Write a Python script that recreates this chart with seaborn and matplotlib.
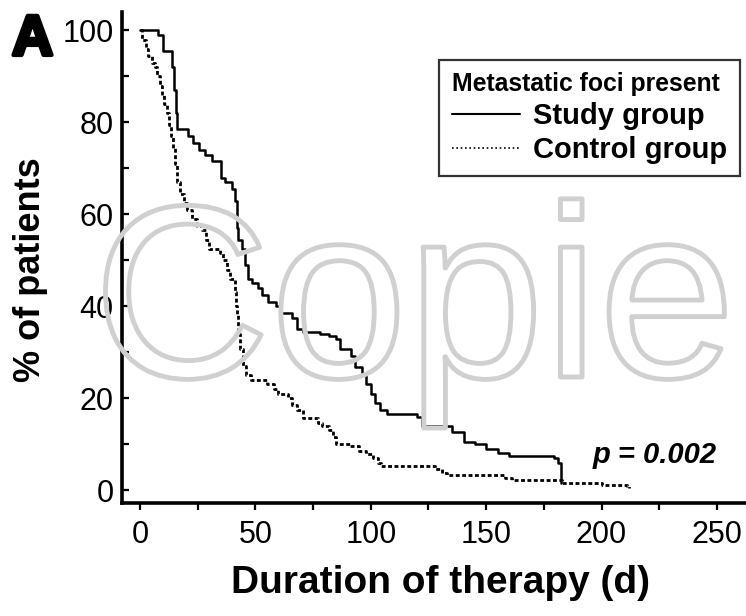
import matplotlib
matplotlib.use("Agg")
import matplotlib.pyplot as plt
import matplotlib.patheffects as pe
from matplotlib.lines import Line2D
import seaborn as sns
import pandas as pd

# ---- data ----
study_days = [0, 8, 10, 14, 14.8, 15.5, 16.2, 21, 23, 25.5, 28, 31, 35, 37, 40, 41, 42, 42.5,
              44, 45.5, 47, 48.5, 51, 53, 55.5, 59, 60.5, 66, 68, 70.5, 78, 82, 85, 86.5,
              91.5, 93, 96, 98, 100, 102, 104, 107, 120, 122, 135, 140.5, 145, 150, 155,
              160, 179.5, 181, 182.5]
study_pct = [100, 99, 95.5, 92, 87, 82, 78.5, 77, 75.5, 74, 73, 71.5, 68, 67, 65.5, 63, 57, 54.5,
             52.5, 49, 46, 45, 44, 42.5, 41, 40, 38.5, 37.5, 35, 34.3, 34, 33.5, 32.8, 30.7,
             29.2, 26.8, 25, 23, 21, 19, 17.5, 16.5, 16, 14, 12.6, 10.5, 10, 9, 8,
             7.4, 7, 6, 1.5]

control_days = [0, 1, 2.5, 3.5, 5, 6.5, 7.5, 8.5, 9.5, 10.5, 11.5, 12.5, 13.5, 14.3, 15, 16,
                17.5, 19, 20.5, 22.5, 24.5, 27, 28.5, 30, 34.5, 36, 37.5, 39, 41, 41.5, 42,
                42.5, 43.3, 44.5, 46, 48, 55, 58, 60, 64, 66, 68, 70.5, 77, 79, 82, 83.5, 85,
                91, 95, 98, 101, 103, 104.5, 128, 131, 133, 158, 161, 183, 200, 211, 212]
control_pct = [100, 98, 96, 94.5, 93, 92, 90, 88, 86, 84, 82, 79.5, 77, 74.5, 71, 67,
               64.5, 62.5, 61, 59, 57.5, 56.5, 54.5, 52.5, 51.5, 50, 48, 46, 43, 40, 38,
               34, 30.7, 27, 25, 24, 23, 22, 21, 20, 18.5, 17.5, 15.6, 14.5, 14, 13, 11.5, 10,
               9.5, 8.5, 7.8, 7, 6, 5.2, 4.5, 3.8, 3.2, 2.6, 2.2, 1.5, 1.2, 0.9, 0.4]

x_ticks = [0, 50, 100, 150, 200, 250]
x_minor = [25, 75, 125, 175, 225]
y_ticks = [0, 20, 40, 60, 80, 100]
y_minor = [10, 30, 50, 70, 90]
series_labels = ["Study group", "Control group"]

study_df = pd.DataFrame({"day": study_days, "pct": study_pct})
control_df = pd.DataFrame({"day": control_days, "pct": control_pct})

sns.set_style("white")
plt.rcParams["font.family"] = ["Liberation Sans", "DejaVu Sans"]
plt.rcParams["text.color"] = "black"
plt.rcParams["axes.labelcolor"] = "black"
plt.rcParams["xtick.color"] = "black"
plt.rcParams["ytick.color"] = "black"

fig = plt.figure(figsize=(7.46, 6.16), dpi=100)
ax = fig.add_axes([0.1635, 0.1834, 0.8365, 0.797])

sns.lineplot(data=study_df, x="day", y="pct", ax=ax, color="black", lw=1.8,
             drawstyle="steps-post", estimator=None, sort=False, zorder=3)
sns.lineplot(data=control_df, x="day", y="pct", ax=ax, color="black", lw=2.0,
             linestyle=(0, (1.4, 0.9)), drawstyle="steps-post", estimator=None,
             sort=False, zorder=3)

ax.set_xlim(-7.8, 262.6)
ax.set_ylim(-2.8, 104)
ax.set_xticks(x_ticks)
ax.set_xticks(x_minor, minor=True)
ax.set_yticks(y_ticks)
ax.set_yticks(y_minor, minor=True)
ax.set_xticklabels([str(v) for v in x_ticks])
ax.set_yticklabels([str(v) for v in y_ticks])

ax.tick_params(axis="x", which="both", direction="out", length=5, width=1.6,
               labelsize=22, pad=7, color="black", labelcolor="black", bottom=True)
ax.tick_params(axis="y", which="both", direction="in", length=5, width=1.6,
               labelsize=22, pad=6, color="black", labelcolor="black", left=True)
for s in ["top", "right"]:
    ax.spines[s].set_visible(False)
for s in ["left", "bottom"]:
    ax.spines[s].set_linewidth(2.6)
    ax.spines[s].set_color("black")

ax.set_xlabel("Duration of therapy (d)", fontsize=28, fontweight="bold", color="black")
ax.xaxis.set_label_coords(0.511, -0.126)
ax.set_ylabel("% of patients", fontsize=26, fontweight="bold", color="black")
ax.yaxis.set_label_coords(-0.118, 0.4745)

# legend
h1 = Line2D([], [], color="black", lw=1.5)
h2 = Line2D([], [], color="black", lw=1.2, linestyle=(0, (1, 1.6)))
leg = ax.legend([h1, h2], series_labels, title="Metastatic foci present",
                loc="upper right", bbox_to_anchor=(0.99, 0.902), borderaxespad=0,
                frameon=True, fancybox=False, edgecolor="black",
                prop={"weight": "bold", "size": 21},
                title_fontproperties={"weight": "bold", "size": 17.8},
                handlelength=2.35, handletextpad=0.45, labelspacing=0.2,
                borderpad=0.42, alignment="left")
leg.get_frame().set_linewidth(1.6)
leg.get_frame().set_facecolor("none")
for t in leg.get_texts():
    t.set_color("black")
leg.get_title().set_color("black")

ax.text(196.3, 7.6, "p = 0.002", fontsize=21, fontweight="bold", style="italic",
        ha="left", va="center", color="black", zorder=4)

fig.text(12 / 746, 1 - 55 / 616, "A", fontsize=41, fontweight="bold", va="baseline",
         ha="left", color="black",
         path_effects=[pe.withStroke(linewidth=3, foreground="black")])

# watermark
fig.text(93 / 746, 1 - 377 / 616, "Copie", fontsize=177, color="none", ha="left",
         va="baseline", zorder=5,
         path_effects=[pe.Stroke(linewidth=3.5, foreground="#d0d0d0")])

fig.savefig("out.png", dpi=100)
